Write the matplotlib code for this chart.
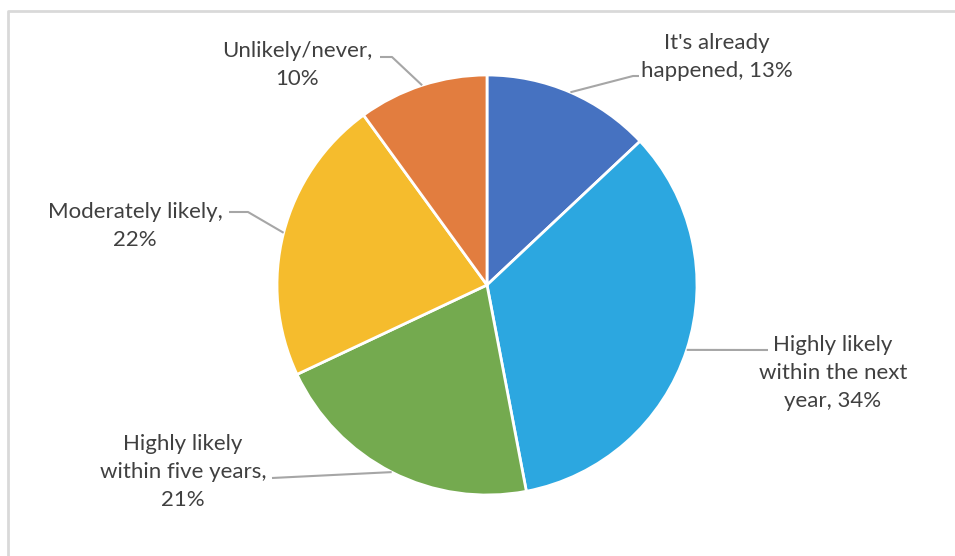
import numpy as np
import matplotlib.pyplot as plt

labels = ["It's already\nhappened, 13%", "Highly likely\nwithin the next\nyear, 34%",
          "Highly likely\nwithin five years,\n21%", "Moderately likely,\n22%", "Unlikely/never,\n10%"]
values = [13, 34, 21, 22, 10]
colors = ["#4672C1", "#2CA7E0", "#74AA4F", "#F5BC2D", "#E27D3F"]

W, H = 955, 556
fig = plt.figure(figsize=(W / 100, H / 100), dpi=100)
ax = fig.add_axes([0, 0, 1, 1])
ax.set_aspect('equal')

cx, cy, r = 487, H - 285, 210
wedges, _ = ax.pie(values, colors=colors, startangle=90, counterclock=False,
                   center=(cx, cy), radius=r, frame=True,
                   wedgeprops=dict(edgecolor='white', linewidth=2))
ax.set_xlim(0, W)
ax.set_ylim(0, H)
ax.axis('off')

# label centres (pixel coords from top) and leader elbows
text_pos = [(717, 57), (833, 373), (183, 472), (135, 226), (297, 65)]
elbows = [[(633, 76), (639, 76)], [(768, 350)], [(272, 478)],
          [(248, 212), (229, 212)], [(392, 57), (380, 57)]]

for w, lab, (tx, ty), elb in zip(wedges, labels, text_pos, elbows):
    ang = np.deg2rad((w.theta1 + w.theta2) / 2)
    px, py = cx + r * np.cos(ang), cy + r * np.sin(ang)
    xs = [px] + [e[0] for e in elb]
    ys = [py] + [H - e[1] for e in elb]
    ax.plot(xs, ys, color='#A6A6A6', lw=1.5, solid_capstyle='butt')
    ax.text(tx, H - ty, lab, ha='center', va='center', fontsize=16,
            family='Lato', color='#404040', linespacing=1.5)

# chart border
ax.plot([8, 8, W], [0, H - 11, H - 11], color='#D9D9D9', lw=2)

fig.savefig('out.png', dpi=100)
